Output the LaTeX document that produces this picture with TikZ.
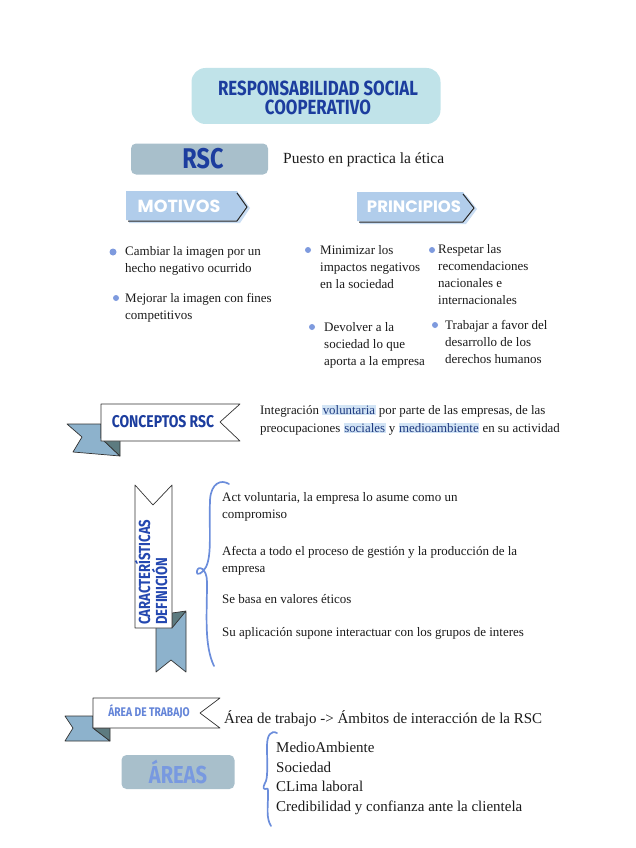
\documentclass[tikz,border=0pt]{standalone}
\usepackage{fontspec}
\setmainfont{Liberation Serif}
\newfontfamily\cond[FakeStretch=0.82]{Fira Sans}
\newfontfamily\wide{Poppins}
\definecolor{ink}{HTML}{1A1A1A}
\definecolor{navy}{HTML}{1C3D9E}
\definecolor{titlefill}{HTML}{C0E3E9}
\definecolor{rscfill}{HTML}{A8BFCB}
\definecolor{arrfill}{HTML}{B1CDEB}
\definecolor{arrshade}{HTML}{C9DDF3}
\definecolor{bul}{HTML}{7E9ADE}
\definecolor{ribblue}{HTML}{8DB2CC}
\definecolor{ribdark}{HTML}{5D7B80}
\definecolor{areatxt}{HTML}{6384D8}
\definecolor{areastxt}{HTML}{7899E0}
\definecolor{bracec}{HTML}{6B8DDB}
\definecolor{hlc}{HTML}{D2E4F5}
\definecolor{hltxt}{HTML}{1F3A80}
\definecolor{cartxt}{HTML}{2448B0}
\newcommand{\hlw}[1]{{\setlength{\fboxsep}{0.6pt}\colorbox{hlc}{\textcolor{hltxt}{#1}}}}
\begin{document}
\begin{tikzpicture}[x=1pt,y=-1pt,
  body/.style={font=\fontsize{13}{17}\selectfont, text=ink, align=left, inner sep=0pt, anchor=north west},
  dotb/.style={circle, fill=bul, inner sep=0pt, minimum size=7pt},
  dots/.style={circle, fill=bul, inner sep=0pt, minimum size=6pt},
  arrowtxt/.style={font=\wide\bfseries\fontsize{17}{17}\selectfont, text=white, inner sep=0pt},
  ribline/.style={draw=black!80, line width=0.7pt, line join=round},
  bracestyle/.style={draw=bracec, line width=1.7pt, line cap=round, line join=round},
  label/.style={font=\cond\bfseries, inner sep=0pt}]
\useasboundingbox (0,0) rectangle (636,848);

% Title
\node[fill=titlefill, rounded corners=14pt, minimum width=249pt, minimum height=56pt, inner sep=0pt] (titlebox) at (316,96) {};
\node[label, text=navy, font=\cond\bfseries\fontsize{20.5}{19.5}\selectfont, align=center] (title) at (318,98) {RESPONSABILIDAD SOCIAL\\COOPERATIVO};

% RSC
\node[fill=rscfill, rounded corners=5pt, minimum width=137pt, minimum height=31pt, inner sep=0pt] (rscbox) at (199.5,159) {};
\node[label, text=navy, font=\cond\bfseries\fontsize{28.5}{28}\selectfont] (rsc) at (203,159) {RSC};
\node[font=\fontsize{15.5}{17}\selectfont, text=ink, anchor=west, inner sep=0pt] (puesto) at (283,160) {Puesto en practica la ética};

% MOTIVOS arrow
\fill[arrshade] (129,194) -- (240,194) -- (250,208) -- (240,223) -- (129,223) -- cycle;
\fill[arrfill] (126,191) -- (237,191) -- (246,206) -- (237,220) -- (126,220) -- cycle;
\draw[black!85, line width=1pt, line join=round] (237,193) -- (247,207) -- (237,221) -- (128,221);
\node[arrowtxt, font=\wide\bfseries\fontsize{17.5}{17}\selectfont] (motivos) at (179,206) {MOTIVOS};

% PRINCIPIOS arrow
\fill[arrshade] (360,195) -- (466,195) -- (477,209) -- (466,224) -- (360,224) -- cycle;
\fill[arrfill] (357,192) -- (463,192) -- (473,207) -- (463,221) -- (357,221) -- cycle;
\draw[black!85, line width=1pt, line join=round] (463,194) -- (474,208) -- (463,222) -- (359,222);
\node[arrowtxt, font=\wide\bfseries\fontsize{16.5}{17}\selectfont] (principios) at (414,207) {PRINCIPIOS};

% Bullets
\node[dotb] (d1) at (113,252) {};
\node[body] (t1) at (125,246) {Cambiar la imagen por un\\hecho negativo ocurrido};
\node[dots] (d2) at (116,298) {};
\node[body] (t2) at (125,293) {Mejorar la imagen con fines\\competitivos};
\node[dots] (d3) at (308,250) {};
\node[body] (t3) at (320,245) {Minimizar los\\impactos negativos\\en la sociedad};
\node[dots] (d4) at (432,250) {};
\node[body] (t4) at (438,244) {Respetar las\\recomendaciones\\nacionales e\\internacionales};
\node[dots] (d5) at (312,327) {};
\node[body] (t5) at (324,322) {Devolver a la\\sociedad lo que\\aporta a la empresa};
\node[dots] (d6) at (435,325) {};
\node[body] (t6) at (445,320) {Trabajar a favor del\\desarrollo de los\\derechos humanos};

% CONCEPTOS RSC ribbon
\filldraw[ribline, fill=ribblue] (67,424) -- (101,424) -- (101,438) -- (120,456) -- (73,452) -- (82,437) -- cycle;
\filldraw[ribline, fill=ribdark] (101,438) -- (120,438) -- (120,456) -- cycle;
\filldraw[ribline, fill=white] (101,404) -- (240,404) -- (220,422) -- (240,441) -- (101,441) -- cycle;
\node[label, text=navy, font=\cond\bfseries\fontsize{17}{17}\selectfont] (conceptos) at (163,422) {CONCEPTOS RSC};
\node[body, font=\fontsize{12.9}{18}\selectfont] (integ) at (260,405) {Integración \hlw{voluntaria} por parte de las empresas, de las\\preocupaciones \hlw{sociales} y \hlw{medioambiente} en su actividad};

% CARACTERISTICAS ribbon (vertical)
\filldraw[ribline, fill=ribblue] (156,622) -- (186,612) -- (186,672) -- (171,660) -- (156,672) -- cycle;
\filldraw[ribline, fill=ribdark] (172,613) -- (186,611) -- (172,628) -- cycle;
\filldraw[ribline, fill=white] (135,485) -- (153,505) -- (172,485) -- (172,628) -- (135,628) -- cycle;
\node[label, text=cartxt, font=\cond\bfseries\fontsize{16}{16}\selectfont, rotate=90, anchor=base west] (carac) at (150,625) {CARACTERÍSTICAS};
\node[label, text=cartxt, font=\cond\bfseries\fontsize{16}{16}\selectfont, rotate=90, anchor=base west] (defin) at (167,625) {DEFINICIÓN};

% brace 1
\draw[bracestyle] (229,484) .. controls (221,479) and (211,483) .. (210,500)
  .. controls (209,530) and (212,555) .. (206,567)
  .. controls (203,573) and (196,577) .. (197,571)
  .. controls (198,565) and (207,568) .. (207,582)
  .. controls (207,615) and (204,645) .. (214,666);

\node[body, font=\fontsize{13}{17}\selectfont] (c1) at (222,492) {Act voluntaria, la empresa lo asume como un\\compromiso};
\node[body, font=\fontsize{13}{17}\selectfont] (c2) at (222,546) {Afecta a todo el proceso de gestión y la producción de la\\empresa};
\node[body, font=\fontsize{13}{17}\selectfont] (c3) at (222,594) {Se basa en valores éticos};
\node[body, font=\fontsize{13}{17}\selectfont] (c4) at (222,627) {Su aplicación supone interactuar con los grupos de interes};

% AREA DE TRABAJO ribbon
\filldraw[ribline, fill=ribblue] (65,716) -- (93,716) -- (93,728) -- (110,741) -- (65,741) -- (73,728) -- cycle;
\filldraw[ribline, fill=ribdark] (93,728) -- (110,728) -- (110,741) -- cycle;
\filldraw[ribline, fill=white] (93,698) -- (220,698) -- (200,713) -- (220,728) -- (93,728) -- cycle;
\node[label, text=areatxt, font=\cond\bfseries\fontsize{12.5}{12.5}\selectfont] (areatrab) at (149,712) {ÁREA DE TRABAJO};
\node[font=\fontsize{15}{17}\selectfont, text=ink, anchor=west, inner sep=0pt] (ambitos) at (224,719) {Área de trabajo -> Ámbitos de interacción de la RSC};

% AREAS box
\node[fill=rscfill, rounded corners=5pt, minimum width=113pt, minimum height=34pt, inner sep=0pt] (areasbox) at (178,772) {};
\node[label, text=areastxt, font=\cond\bfseries\fontsize{24.5}{24}\selectfont] (areas) at (178,772) {ÁREAS};

% brace 2
\draw[bracestyle] (277,733) .. controls (271,730) and (267,735) .. (267,746)
  .. controls (267,760) and (268,775) .. (266,781)
  .. controls (264,785) and (262,789) .. (265,789)
  .. controls (268,789) and (268,786) .. (268,795)
  .. controls (268,808) and (266,818) .. (271,826);

\node[body, font=\fontsize{15}{19.5}\selectfont] (list) at (276,742) {MedioAmbiente\\Sociedad\\CLima laboral\\Credibilidad y confianza ante la clientela};

\end{tikzpicture}
\end{document}
